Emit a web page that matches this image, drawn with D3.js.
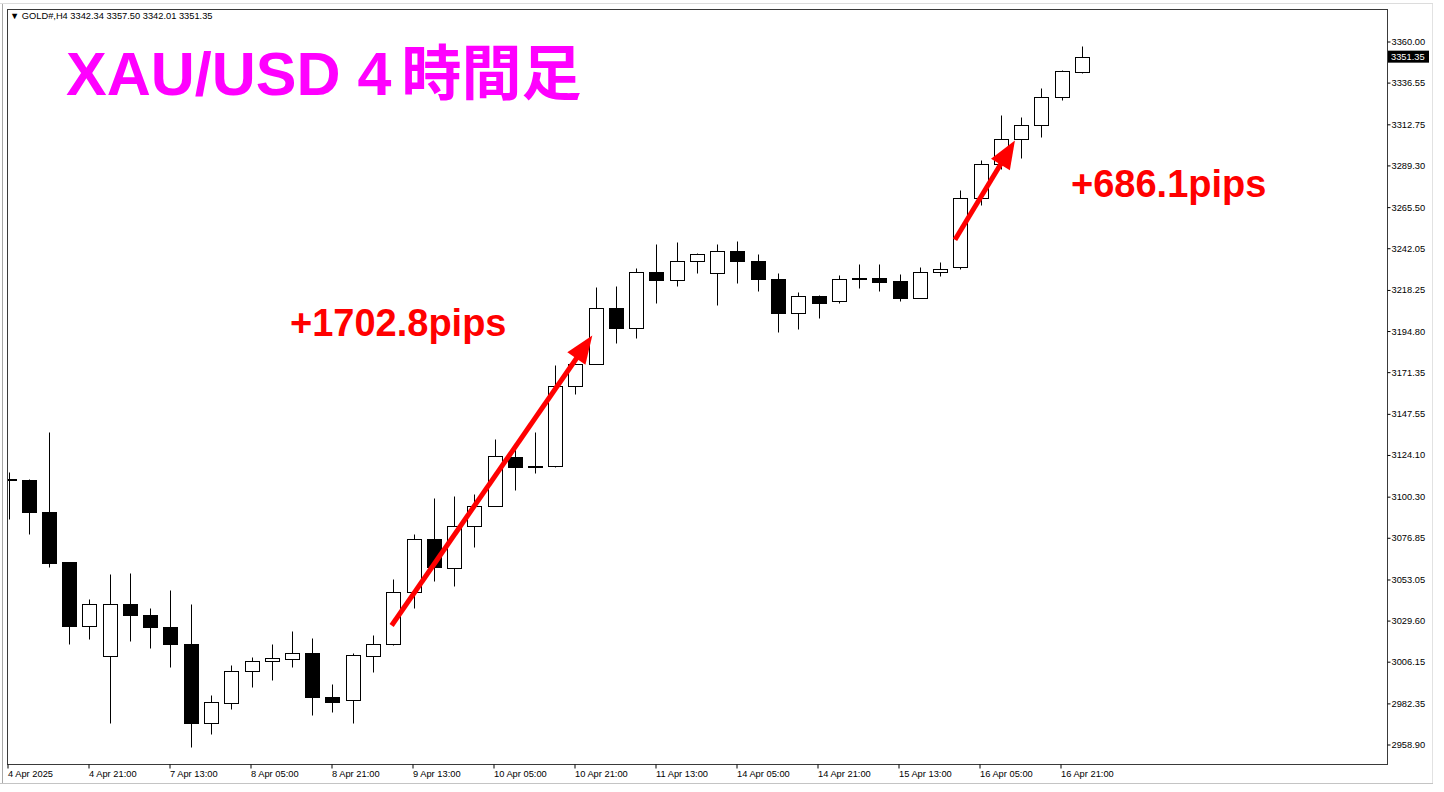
<!DOCTYPE html>
<html><head><meta charset="utf-8">
<script src="https://cdn.jsdelivr.net/npm/d3@7"></script>
<style>html,body{margin:0;padding:0;background:#fff;overflow:hidden}</style>
</head><body>
<svg id="chart" width="1444" height="792"></svg>
<script>
// ---- data (H4 bars, 4 Apr 05:00 .. 17 Apr 01:00) ----
const opens  = [3110.5,3109.7,3091.7,3062.9,3026.6,3009.5,3039.3,3032.7,3026.0,3016.3,
                2971.0,2982.3,3000.9,3006.6,3007.8,3011.0,2986.1,2984.2,3009.5,3016.3,
                3046.0,3076.2,3059.7,3083.8,3095.1,3123.0,3117.3,3117.9,3163.5,3176.1,
                3207.8,3196.6,3228.6,3224.0,3234.6,3228.0,3240.4,3235.0,3224.6,3205.2,
                3214.7,3211.8,3225.3,3225.3,3223.1,3213.8,3228.6,3231.4,3270.8,3290.2,
                3304.3,3312.2,3328.4,3342.34];
const highs  = [3114.1,3110.5,3137.3,3063.0,3042.0,3055.9,3056.5,3036.5,3046.9,3039.2,
                2987.2,3004.4,3009.1,3016.5,3023.9,3019.4,2993.7,3011.2,3021.6,3053.6,
                3079.1,3099.6,3100.6,3101.9,3133.3,3128.2,3137.3,3175.7,3176.5,3220.0,
                3220.4,3230.5,3244.6,3245.7,3239.4,3244.2,3246.1,3238.9,3228.0,3217.2,
                3215.5,3226.7,3233.2,3232.8,3227.5,3231.4,3234.3,3275.4,3292.3,3318.3,
                3317.0,3333.6,3343.5,3357.50];
const lows   = [3087.8,3078.9,3060.0,3016.3,3019.2,2971.3,3017.8,3014.2,3003.0,2957.3,
                2965.0,2979.3,2991.6,2995.6,3003.2,2975.6,2977.3,2971.0,3000.4,3015.5,
                3036.9,3052.1,3049.2,3071.7,3094.8,3104.0,3113.7,3117.5,3158.8,3175.8,
                3187.9,3190.9,3210.9,3220.4,3228.0,3209.9,3222.3,3217.5,3194.1,3196.1,
                3202.0,3211.0,3219.2,3217.9,3211.8,3213.5,3226.1,3230.3,3266.6,3287.0,
                3293.6,3305.6,3326.5,3342.01];
const closes = [3110.0,3091.4,3062.7,3026.4,3039.2,3038.9,3032.7,3026.0,3016.3,2971.0,
                2983.2,3000.9,3006.6,3008.0,3011.2,2986.1,2983.2,3010.1,3016.3,3046.0,
                3076.2,3060.3,3083.8,3095.1,3123.4,3117.1,3117.6,3163.5,3175.9,3207.8,
                3196.4,3228.6,3224.0,3234.6,3238.5,3240.4,3235.0,3224.6,3205.2,3214.7,
                3210.9,3224.6,3224.7,3222.9,3213.5,3228.6,3230.1,3270.8,3290.2,3304.3,
                3312.2,3328.4,3343.3,3351.35];

const yTickValues = [3360.00,3336.55,3312.75,3289.30,3265.50,3242.05,3218.25,3194.80,3171.35,
                     3147.55,3124.10,3100.30,3076.85,3053.05,3029.60,3006.15,2982.35,2958.90];
const xTickBars   = [0,4,8,12,16,20,24,28,32,36,40,44,48,52];
const xTickLabels = ["4 Apr 2025","4 Apr 21:00","7 Apr 13:00","8 Apr 05:00","8 Apr 21:00",
                     "9 Apr 13:00","10 Apr 05:00","10 Apr 21:00","11 Apr 13:00","14 Apr 05:00",
                     "14 Apr 21:00","15 Apr 13:00","16 Apr 05:00","16 Apr 21:00"];

const headerText = "\u25BC GOLD#,H4  3342.34 3357.50 3342.01 3351.35";
const titleLatin = "XAU/USD 4";
const titleKanji = "時間足";
const lastPrice  = 3351.35;

// annotations, anchored in data units (bar index, price)
const annTexts  = ["+1702.8pips", "+686.1pips"];
const annBars   = [13.9, 52.47];
const annPrices = [3192.0, 3271.3];
const arrowFromBars   = [18.92, 46.74];
const arrowFromPrices = [3026.8, 3246.9];
const arrowToBars     = [28.83, 49.70];
const arrowToPrices   = [3192.3, 3303.5];

// ---- layout ----
const W = 1444, H = 792;
const plot = {left: 7, right: 1387, top: 9, bottom: 764};
const axisFont = "'Liberation Sans', Arial, sans-serif";

const svg = d3.select("#chart");
svg.append("rect").attr("width", W).attr("height", H).attr("fill", "#fff");

// window frame
svg.append("line").attr("x1",0).attr("x2",1433).attr("y1",3.5).attr("y2",3.5).attr("stroke","#dcdcdc");
svg.append("line").attr("x1",2.5).attr("x2",2.5).attr("y1",4).attr("y2",783).attr("stroke","#a8a8a8");
svg.append("line").attr("x1",0).attr("x2",1433).attr("y1",783.5).attr("y2",783.5).attr("stroke","#c4c4c4");
svg.append("line").attr("x1",1432.5).attr("x2",1432.5).attr("y1",4).attr("y2",783).attr("stroke","#e2e2e2");

const n = opens.length;
const x = d3.scaleLinear().domain([0, n - 1]).range([8.5, 8.5 + (n - 1) * 20.25]);
const y = d3.scaleLinear().domain([2958.90, 3360.00]).range([744.5, 41.5]);

// clip
svg.append("clipPath").attr("id","clip").append("rect")
  .attr("x", plot.left + 1).attr("y", plot.top + 1)
  .attr("width", plot.right - plot.left - 1).attr("height", plot.bottom - plot.top - 1);

const bars = d3.range(n).map(i => ({i, o: opens[i], h: highs[i], l: lows[i], c: closes[i]}));
const g = svg.append("g").attr("clip-path", "url(#clip)");
const px = i => Math.round(x(i)) + 0.5;
const py = v => Math.round(y(v)) + 0.5;

g.selectAll("line.wick").data(bars).join("line").attr("class","wick")
  .attr("x1", d => px(d.i)).attr("x2", d => px(d.i))
  .attr("y1", d => py(d.h)).attr("y2", d => py(d.l))
  .attr("stroke", "#000").attr("stroke-width", 1);

g.selectAll("rect.body").data(bars).join("rect").attr("class","body")
  .attr("x", d => px(d.i) - 7).attr("width", 14)
  .attr("y", d => py(Math.max(d.o, d.c)))
  .attr("height", d => Math.max(0, py(Math.min(d.o, d.c)) - py(Math.max(d.o, d.c))))
  .attr("fill", d => d.c >= d.o ? "#fff" : "#000")
  .attr("stroke", "#000").attr("stroke-width", 1);

// plot frame
svg.append("rect").attr("x", plot.left + 0.5).attr("y", plot.top + 0.5)
  .attr("width", plot.right - plot.left).attr("height", plot.bottom - plot.top)
  .attr("fill", "none").attr("stroke", "#3a3a3a").attr("stroke-width", 1);

// y axis (right)
const yAxis = d3.axisRight(y).tickValues(yTickValues).tickSize(3).tickPadding(1)
  .tickFormat(d3.format(".2f"));
const ya = svg.append("g").attr("transform", `translate(${plot.right + 0.5},0)`).call(yAxis);
ya.select(".domain").remove();
ya.selectAll("text").attr("font-family", axisFont).attr("font-size", 9.3).attr("fill", "#000");
ya.selectAll("line").attr("stroke", "#000");

// x axis (bottom)
const xAxis = d3.axisBottom(x).tickValues(xTickBars).tickSize(4).tickPadding(2)
  .tickFormat((d, k) => xTickLabels[k]);
const xa = svg.append("g").attr("transform", `translate(-1,${plot.bottom + 0.5})`).call(xAxis);
xa.select(".domain").remove();
xa.selectAll("text").attr("text-anchor", "start").attr("font-family", axisFont)
  .attr("font-size", 9.3).attr("fill", "#000");
xa.selectAll("line").attr("stroke", "#000");

// current price label
const lp = y(lastPrice);
svg.append("rect").attr("x", plot.right + 1).attr("y", lp - 6).attr("width", 41).attr("height", 12).attr("fill", "#000");
svg.append("text").attr("x", plot.right + 4).attr("y", lp).attr("dy", "0.34em")
  .attr("font-family", axisFont).attr("font-size", 9.3).attr("fill", "#fff").text(lastPrice.toFixed(2));

// header
svg.append("text").attr("x", 10).attr("y", 19).attr("font-family", axisFont)
  .attr("font-size", 9.3).attr("fill", "#000").text(headerText);

// title
const title = svg.append("text").attr("x", 66).attr("y", 95)
  .attr("font-family", "'Liberation Sans', 'Noto Sans CJK JP', sans-serif")
  .attr("font-weight", "bold").attr("font-size", 61).attr("fill", "#FF00FF");
title.append("tspan").text(titleLatin);
title.append("tspan").attr("dx", 10).attr("font-family", "'Noto Sans CJK JP', sans-serif")
  .attr("font-size", 60).text(titleKanji);

// annotations
annTexts.forEach((t, k) => {
  svg.append("text").attr("x", x(annBars[k])).attr("y", y(annPrices[k]))
    .attr("font-family", "'Liberation Sans', Arial, sans-serif").attr("font-weight", "bold")
    .attr("font-size", 38).attr("fill", "#FF0000").text(t);
});

// arrows
arrowFromBars.forEach((b, k) => {
  const x1 = x(b), y1 = y(arrowFromPrices[k]);
  const x2 = x(arrowToBars[k]), y2 = y(arrowToPrices[k]);
  const dx = x2 - x1, dy = y2 - y1, len = Math.hypot(dx, dy);
  const ux = dx / len, uy = dy / len, nx = -uy, ny = ux;
  const headLen = 28, halfW = 11;
  const bx = x2 - ux * headLen, by = y2 - uy * headLen;
  svg.append("line").attr("x1", x1).attr("y1", y1).attr("x2", bx + ux * 3).attr("y2", by + uy * 3)
    .attr("stroke", "#FF0000").attr("stroke-width", 5).attr("stroke-linecap", "butt");
  svg.append("polygon")
    .attr("points", [[x2, y2], [bx + nx * halfW, by + ny * halfW], [bx - nx * halfW, by - ny * halfW]].map(p => p.join(",")).join(" "))
    .attr("fill", "#FF0000");
});
</script>
</body></html>
